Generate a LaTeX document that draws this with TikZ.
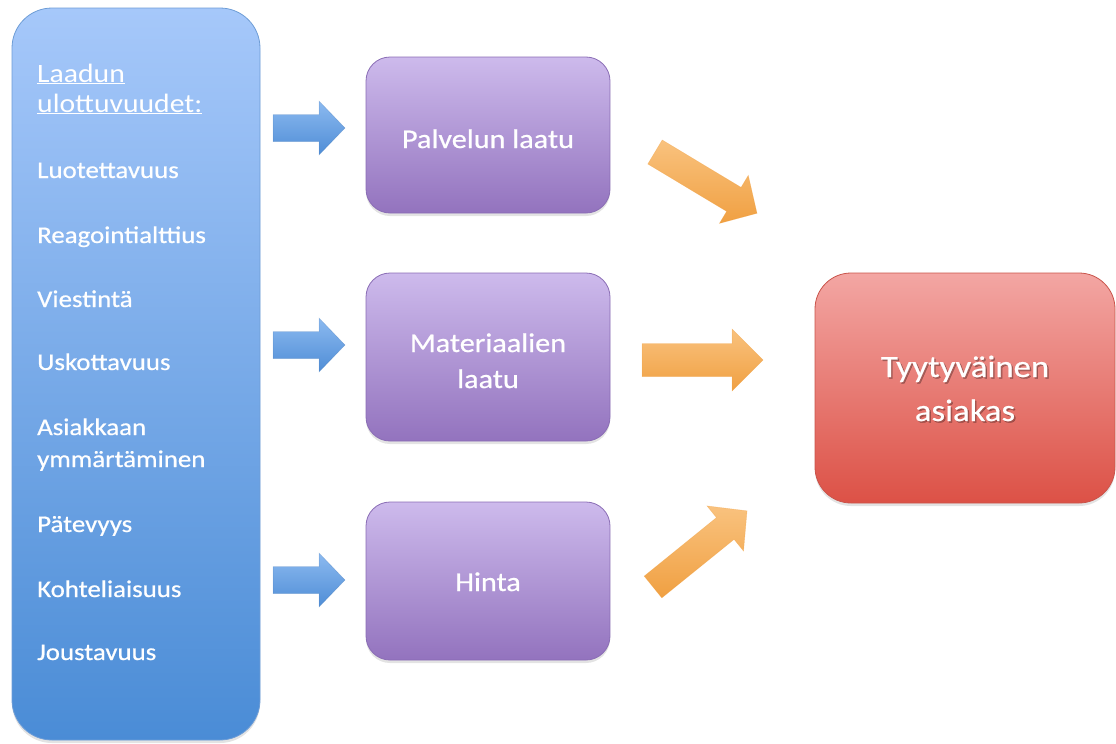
\documentclass[tikz,border=0pt]{standalone}
\usepackage{fontspec}
\setmainfont{Carlito}[FakeStretch=1.12,FakeBold=0.6]
\newfontfamily\headfont{Carlito}[FakeStretch=1.12]
\usetikzlibrary{shadows}

\definecolor{blueTop}{HTML}{A6C8FA}
\definecolor{blueBot}{HTML}{4A8CD6}
\definecolor{blueLine}{HTML}{6E9DD6}
\definecolor{purpTop}{HTML}{CDBAEC}
\definecolor{purpBot}{HTML}{9373BE}
\definecolor{purpLine}{HTML}{8A6DB5}
\definecolor{redTop}{HTML}{F3A6A3}
\definecolor{redBot}{HTML}{DC5146}
\definecolor{redLine}{HTML}{C9544B}
\definecolor{arrBlueTop}{HTML}{8CBAF0}
\definecolor{arrBlueBot}{HTML}{4F8DD6}
\definecolor{arrOrTop}{HTML}{F9C27E}
\definecolor{arrOrBot}{HTML}{F0A042}

% block arrow: style, tail x, tail y, rotation, length, shaft width, head length, head width
\newcommand\blockarrow[8]{%
  \begin{scope}[shift={(#2,#3)},rotate=#4]
    \path[#1] (0,{-#6/2}) -- ({#5-#7},{-#6/2}) -- ({#5-#7},{-#8/2}) -- (#5,0)
      -- ({#5-#7},{#8/2}) -- ({#5-#7},{#6/2}) -- (0,{#6/2}) -- cycle;
  \end{scope}}

\tikzset{
  softshadow/.style={drop shadow={opacity=0.22,shadow xshift=0pt,shadow yshift=-3pt}},
  bigbox/.style={draw=blueLine,line width=0.8pt,rounded corners=40pt,
    top color=blueTop,bottom color=blueBot,softshadow},
  midbox/.style={draw=purpLine,line width=0.8pt,rounded corners=24pt,
    top color=purpTop,bottom color=purpBot,softshadow,minimum width=244pt},
  goalbox/.style={draw=redLine,line width=0.8pt,rounded corners=36pt,
    top color=redTop,bottom color=redBot,softshadow,
    minimum width=300pt,minimum height=230pt},
  itemtext/.style={anchor=base west,inner sep=0pt,text=white,
    font=\fontsize{24}{28}\selectfont},
  headtext/.style={anchor=base west,inner sep=0pt,text=white,
    font=\headfont\fontsize{26.5}{30}\selectfont},
  midtext/.style={anchor=base,inner sep=0pt,text=white,
    font=\fontsize{27}{32}\selectfont},
  goaltext/.style={anchor=base,inner sep=0pt,text=white,
    font=\fontsize{31}{36}\selectfont},
  goalshade/.style={goaltext,text=black,text opacity=0.28},
  bluearrow/.style={top color=arrBlueTop,bottom color=arrBlueBot,
    draw=arrBlueBot!80!black,draw opacity=0.3,line width=0.5pt},
  orangearrow/.style={top color=arrOrTop,bottom color=arrOrBot,
    draw=arrOrBot,draw opacity=0.4,line width=0.5pt},
}

\begin{document}
\begin{tikzpicture}[x=1pt,y=-1pt]
  \useasboundingbox (0,0) rectangle (1116,744);

  % quality dimensions column
  \node[bigbox,minimum width=248pt,minimum height=732pt] (dims) at (136,374) {};
  \node[headtext] (hdA) at (37,82) {\underline{Laadun}};
  \node[headtext] (hdB) at (37,112) {\underline{ulottuvuudet:}};
  \node[itemtext] (i1) at (37,178) {Luotettavuus};
  \node[itemtext] (i2) at (37,243) {Reagointialttius};
  \node[itemtext] (i3) at (37,307) {Viestintä};
  \node[itemtext] (i4) at (37,370) {Uskottavuus};
  \node[itemtext] (i5) at (37,435) {Asiakkaan};
  \node[itemtext] (i6) at (37,467) {ymmärtäminen};
  \node[itemtext] (i7) at (37,532) {Pätevyys};
  \node[itemtext] (i8) at (37,597) {Kohteliaisuus};
  \node[itemtext] (i9) at (37,660) {Joustavuus};

  % middle factors
  \node[midbox,minimum height=156pt] (serv) at (488,135) {};
  \node[midbox,minimum height=168pt] (mat) at (488,357) {};
  \node[midbox,minimum height=158pt] (price) at (488,581) {};
  \node[midtext] (servA) at (488,148) {Palvelun laatu};
  \node[midtext] (matA) at (488,352) {Materiaalien};
  \node[midtext] (matB) at (488,388) {laatu};
  \node[midtext] (priceA) at (488,591) {Hinta};

  % outcome
  \node[goalbox] (cust) at (965,388) {};
  \node[goalshade] (custSa) at (966.5,378.5) {Tyytyväinen};
  \node[goalshade] (custSb) at (966.5,422.5) {asiakas};
  \node[goaltext] (custA) at (965,377) {Tyytyväinen};
  \node[goaltext] (custB) at (965,421) {asiakas};

  % blue arrows into the factors
  \blockarrow{bluearrow}{273}{128}{0}{72}{27}{26}{54}
  \blockarrow{bluearrow}{273}{345}{0}{72}{27}{26}{54}
  \blockarrow{bluearrow}{273}{580}{0}{72}{27}{26}{54}

  % orange arrows towards the customer
  \blockarrow{orangearrow}{655}{152}{-31}{119}{28}{27}{56}
  \blockarrow{orangearrow}{642}{360}{0}{121}{33}{31}{62}
  \blockarrow{orangearrow}{653}{587}{39}{121}{28}{28}{58}
\end{tikzpicture}
\end{document}
